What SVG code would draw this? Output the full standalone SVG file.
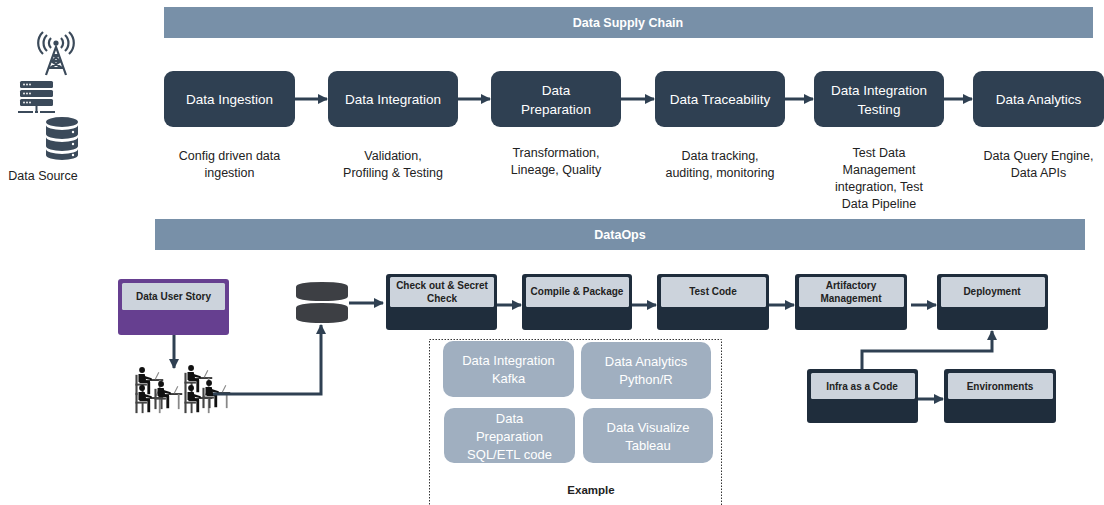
<svg xmlns="http://www.w3.org/2000/svg" width="1104" height="505" viewBox="0 0 1104 505">
  <style>
    text { font-family: "Liberation Sans", Arial, sans-serif; }
    .bar { fill: #7890a8; }
    .barText { fill: #ffffff; font-size: 12.5px; font-weight: bold; text-anchor: middle; }
    .stage { fill: #2f4052; }
    .stageText { fill: #ffffff; font-size: 13.5px; text-anchor: middle; }
    .desc { fill: #222222; font-size: 12.5px; text-anchor: middle; }
    .opsOuter { fill: #1f2d3c; }
    .opsInner { fill: #ccd3dc; }
    .opsText { fill: #222222; font-size: 10px; font-weight: bold; text-anchor: middle; }
    .example { fill: #a0afc0; }
    .exampleText { fill: #ffffff; font-size: 13px; text-anchor: middle; }
    .conn { stroke: #2f4052; stroke-width: 3; fill: none; }
    .icon { fill: #3b4a5a; }
  </style>
  <defs>
    <marker id="arrow" viewBox="0 0 10 10" refX="9" refY="5" markerWidth="3.4" markerHeight="3.4" orient="auto">
      <path d="M0,0 L10,5 L0,10 z" fill="#2f4052"/>
    </marker>
    <!-- seated person at a desk with a laptop -->
    <symbol id="worker" viewBox="0 0 34 32" width="34" height="32">
      <circle cx="8" cy="3.5" r="3.3" fill="#111"/>
      <path d="M4,8 h7 l2,9 h-9 z" fill="#111"/>
      <path d="M5,15 h12 v3.5 h-12 z" fill="#111"/>
      <path d="M14,17 h3.2 v14 h-3.2 z" fill="#111"/>
      <path d="M10,10 l9,3 v2.2 l-9,-2 z" fill="#111"/>
      <rect x="0.5" y="9" width="2.4" height="23" fill="#444"/>
      <rect x="0.5" y="19" width="13" height="2.2" fill="#444"/>
      <rect x="7.5" y="20" width="2.2" height="12" fill="#444"/>
      <rect x="17" y="14" width="15" height="1.8" fill="#111"/>
      <rect x="27" y="15" width="2" height="17" fill="#888"/>
      <line x1="23" y1="14" x2="27" y2="6" stroke="#888" stroke-width="1.2"/>
    </symbol>
  </defs>

  <!-- Data source icons -->
  <g id="data-source">
    <g id="tower" stroke="#3b4a5a" fill="none" stroke-width="2.2">
      <path d="M46,75 L56,47 L66,75"/>
      <path d="M51,61 L61,61 M49,68 L63,68 M51,61 L62,68 M61,61 L50,68 M53,55 L59,55 M53,55 L60,61 M59,55 L52,61"/>
      <circle cx="56" cy="43" r="2.6" fill="#3b4a5a" stroke="none"/>
      <path d="M51,38 a7,7 0 0 0 0,10 M61,38 a7,7 0 0 1 0,10"/>
      <path d="M47,35 a11,11 0 0 0 0,16 M65,35 a11,11 0 0 1 0,16"/>
      <path d="M43,32 a15,15 0 0 0 0,22 M69,32 a15,15 0 0 1 0,22"/>
    </g>
    <g id="server">
      <rect x="20" y="81" width="33" height="7" rx="1.5" class="icon"/>
      <rect x="20" y="90" width="33" height="7" rx="1.5" class="icon"/>
      <rect x="20" y="99" width="33" height="7" rx="1.5" class="icon"/>
      <g fill="#ffffff">
        <circle cx="24" cy="84.5" r="0.9"/><circle cx="27" cy="84.5" r="0.9"/><circle cx="30" cy="84.5" r="0.9"/>
        <circle cx="24" cy="93.5" r="0.9"/><circle cx="27" cy="93.5" r="0.9"/><circle cx="30" cy="93.5" r="0.9"/>
        <circle cx="24" cy="102.5" r="0.9"/><circle cx="27" cy="102.5" r="0.9"/><circle cx="30" cy="102.5" r="0.9"/>
      </g>
      <rect x="35.5" y="106" width="2" height="6" class="icon"/>
      <rect x="18" y="111" width="15" height="2" class="icon"/>
      <rect x="35" y="111" width="3" height="2" class="icon"/>
      <rect x="40" y="111" width="15" height="2" class="icon"/>
    </g>
    <g id="database">
      <ellipse cx="62" cy="122" rx="16" ry="5" class="icon"/>
      <path d="M46,125 a16,5 0 0 0 32,0 v9 a16,5 0 0 1 -32,0 z" class="icon"/>
      <path d="M46,137 a16,5 0 0 0 32,0 v9 a16,5 0 0 1 -32,0 z" class="icon"/>
      <path d="M46,149 a16,5 0 0 0 32,0 v6 a16,5 0 0 1 -32,0 z" class="icon"/>
      <g fill="#ffffff">
        <circle cx="73" cy="132" r="1.2"/><circle cx="73" cy="144" r="1.2"/><circle cx="73" cy="155" r="1.2"/>
      </g>
    </g>
    <text x="43" y="180" font-size="12.5" fill="#222" text-anchor="middle">Data Source</text>
  </g>

  <!-- Section headers -->
  <g id="supply-chain-header">
    <rect x="164" y="7" width="929" height="31" class="bar"/>
    <text x="628" y="27" class="barText">Data Supply Chain</text>
  </g>
  <g id="dataops-header">
    <rect x="155" y="219" width="930" height="31" class="bar"/>
    <text x="620" y="239" class="barText">DataOps</text>
  </g>

  <!-- Supply chain stages -->
  <g id="stage-ingestion">
    <rect x="164" y="71" width="131" height="56" rx="9" class="stage"/>
    <text x="229.5" y="104" class="stageText">Data Ingestion</text>
    <text x="229.5" y="160" class="desc">Config driven data</text>
    <text x="229.5" y="177" class="desc">ingestion</text>
  </g>
  <g id="stage-integration">
    <rect x="328" y="71" width="130" height="56" rx="9" class="stage"/>
    <text x="393" y="104" class="stageText">Data Integration</text>
    <text x="393" y="160" class="desc">Validation,</text>
    <text x="393" y="177" class="desc">Profiling &amp; Testing</text>
  </g>
  <g id="stage-preparation">
    <rect x="491" y="71" width="130" height="56" rx="9" class="stage"/>
    <text x="556" y="95" class="stageText">Data</text>
    <text x="556" y="114" class="stageText">Preparation</text>
    <text x="556" y="157" class="desc">Transformation,</text>
    <text x="556" y="174" class="desc">Lineage, Quality</text>
  </g>
  <g id="stage-traceability">
    <rect x="655" y="71" width="130" height="56" rx="9" class="stage"/>
    <text x="720" y="104" class="stageText">Data Traceability</text>
    <text x="720" y="160" class="desc">Data tracking,</text>
    <text x="720" y="177" class="desc">auditing, monitoring</text>
  </g>
  <g id="stage-integration-testing">
    <rect x="814" y="71" width="130" height="56" rx="9" class="stage"/>
    <text x="879" y="95" class="stageText">Data Integration</text>
    <text x="879" y="114" class="stageText">Testing</text>
    <text x="879" y="157" class="desc">Test Data</text>
    <text x="879" y="174" class="desc">Management</text>
    <text x="879" y="191" class="desc">integration, Test</text>
    <text x="879" y="208" class="desc">Data Pipeline</text>
  </g>
  <g id="stage-analytics">
    <rect x="973" y="71" width="131" height="56" rx="9" class="stage"/>
    <text x="1038.5" y="104" class="stageText">Data Analytics</text>
    <text x="1038.5" y="160" class="desc">Data Query Engine,</text>
    <text x="1038.5" y="177" class="desc">Data APIs</text>
  </g>

  <!-- DataOps pipeline -->
  <g id="user-story">
    <rect x="118" y="279" width="111" height="56" rx="3" fill="#663f90"/>
    <rect x="122" y="283" width="103" height="27" rx="1.5" class="opsInner"/>
    <text x="173.5" y="300" class="opsText">Data User Story</text>
  </g>
  <g id="team">
    <use href="#worker" x="135" y="366" width="30" height="30"/>
    <use href="#worker" x="135" y="384" width="30" height="30"/>
    <use href="#worker" x="154" y="380" width="30" height="30"/>
    <use href="#worker" x="184" y="364" width="30" height="30"/>
    <use href="#worker" x="184" y="384" width="30" height="30"/>
    <use href="#worker" x="202" y="379" width="30" height="30"/>
  </g>
  <g id="repository">
    <path d="M296,287 q0,-5 26,-5 q26,0 26,5 v9 q0,5 -26,5 q-26,0 -26,-5 z" fill="#3d3f44"/>
    <path d="M296,308 q0,-5 26,-5 q26,0 26,5 v10 q0,5 -26,5 q-26,0 -26,-5 z" fill="#3d3f44"/>
  </g>
  <g id="checkout">
    <rect x="386" y="274" width="111" height="56" rx="3" class="opsOuter"/>
    <rect x="390" y="277" width="104" height="30" rx="1.5" class="opsInner"/>
    <text x="442" y="289" class="opsText">Check out &amp; Secret</text>
    <text x="442" y="302" class="opsText">Check</text>
  </g>
  <g id="compile">
    <rect x="522" y="274" width="110" height="56" rx="3" class="opsOuter"/>
    <rect x="526" y="277" width="103" height="30" rx="1.5" class="opsInner"/>
    <text x="577" y="295" class="opsText">Compile &amp; Package</text>
  </g>
  <g id="test-code">
    <rect x="657" y="274" width="112" height="56" rx="3" class="opsOuter"/>
    <rect x="661" y="277" width="105" height="30" rx="1.5" class="opsInner"/>
    <text x="713" y="295" class="opsText">Test Code</text>
  </g>
  <g id="artifactory">
    <rect x="795" y="274" width="112" height="56" rx="3" class="opsOuter"/>
    <rect x="799" y="277" width="105" height="30" rx="1.5" class="opsInner"/>
    <text x="851" y="289" class="opsText">Artifactory</text>
    <text x="851" y="302" class="opsText">Management</text>
  </g>
  <g id="deployment">
    <rect x="937" y="274" width="111" height="56" rx="3" class="opsOuter"/>
    <rect x="941" y="277" width="104" height="30" rx="1.5" class="opsInner"/>
    <text x="992" y="295" class="opsText">Deployment</text>
  </g>
  <g id="infra-as-code">
    <rect x="807" y="369" width="111" height="54" rx="3" class="opsOuter"/>
    <rect x="811" y="373" width="104" height="26" rx="1.5" class="opsInner"/>
    <text x="862" y="390" class="opsText">Infra as a Code</text>
  </g>
  <g id="environments">
    <rect x="944" y="369" width="112" height="54" rx="3" class="opsOuter"/>
    <rect x="948" y="373" width="105" height="26" rx="1.5" class="opsInner"/>
    <text x="1000" y="390" class="opsText">Environments</text>
  </g>

  <!-- Example technologies -->
  <g id="example">
    <rect x="429.5" y="339.5" width="292" height="170" fill="none" stroke="#333" stroke-width="1" stroke-dasharray="1.5,1.5"/>
    <rect x="443" y="341" width="131" height="56" rx="10" class="example"/>
    <text x="508.5" y="365" class="exampleText">Data Integration</text>
    <text x="508.5" y="383" class="exampleText">Kafka</text>
    <rect x="581" y="342" width="130" height="57" rx="10" class="example"/>
    <text x="646" y="366" class="exampleText">Data Analytics</text>
    <text x="646" y="384" class="exampleText">Python/R</text>
    <rect x="444" y="408" width="131" height="55" rx="10" class="example"/>
    <text x="509.5" y="423" class="exampleText">Data</text>
    <text x="509.5" y="441" class="exampleText">Preparation</text>
    <text x="509.5" y="459" class="exampleText">SQL/ETL code</text>
    <rect x="583" y="408" width="130" height="55" rx="10" class="example"/>
    <text x="648" y="432" class="exampleText">Data Visualize</text>
    <text x="648" y="450" class="exampleText">Tableau</text>
    <text x="591" y="494" font-size="11.5" font-weight="bold" fill="#222" text-anchor="middle">Example</text>
  </g>

  <!-- Connectors -->
  <g id="connectors" class="conn">
    <line x1="295" y1="99" x2="327" y2="99" class="conn" marker-end="url(#arrow)"/>
    <line x1="458" y1="99" x2="490" y2="99" class="conn" marker-end="url(#arrow)"/>
    <line x1="621" y1="99" x2="654" y2="99" class="conn" marker-end="url(#arrow)"/>
    <line x1="785" y1="99" x2="813" y2="99" class="conn" marker-end="url(#arrow)"/>
    <line x1="944" y1="99" x2="972" y2="99" class="conn" marker-end="url(#arrow)"/>
    <line x1="174" y1="335" x2="174" y2="368" class="conn" marker-end="url(#arrow)"/>
    <polyline points="213,394 321,394 321,325" class="conn" marker-end="url(#arrow)"/>
    <line x1="349" y1="303" x2="383" y2="303" class="conn" marker-end="url(#arrow)"/>
    <line x1="497" y1="305" x2="521" y2="305" class="conn" marker-end="url(#arrow)"/>
    <line x1="632" y1="305" x2="656" y2="305" class="conn" marker-end="url(#arrow)"/>
    <line x1="769" y1="305" x2="794" y2="305" class="conn" marker-end="url(#arrow)"/>
    <line x1="911" y1="305" x2="936" y2="305" class="conn" marker-end="url(#arrow)"/>
    <polyline points="862,369 862,351 992,351 992,331" class="conn" marker-end="url(#arrow)"/>
    <line x1="918" y1="399" x2="943" y2="399" class="conn" marker-end="url(#arrow)"/>
  </g>
</svg>
